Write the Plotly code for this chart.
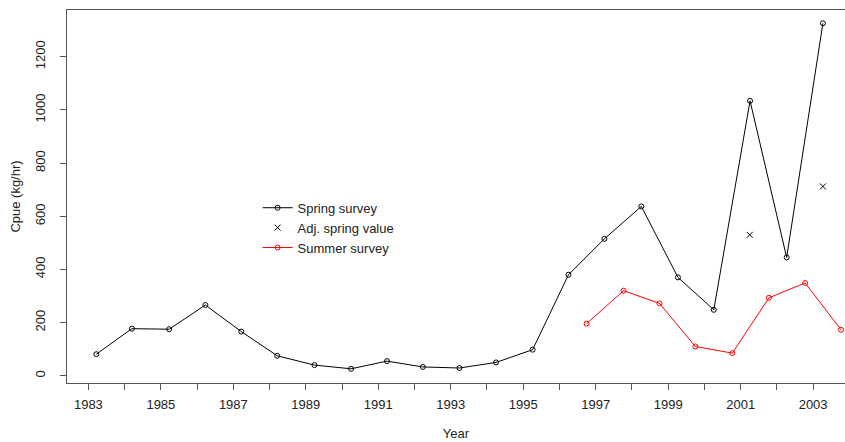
import plotly.graph_objects as go

# Spring survey (timed ~ March of each year)
spring_years = [1983.22, 1984.2, 1985.23, 1986.23, 1987.22, 1988.21, 1989.24, 1990.25,
                1991.24, 1992.23, 1993.24, 1994.25, 1995.26, 1996.25, 1997.24, 1998.26,
                1999.27, 2000.26, 2001.26, 2002.27, 2003.27]
spring_cpue = [81, 177, 175, 266, 166, 75, 40, 26, 55, 33, 29, 50, 98, 380, 515, 637,
               370, 248, 1034, 445, 1326]

# Adjusted spring values
adj_years = [2001.25, 2003.27]
adj_cpue = [530, 712]

# Summer survey
summer_years = [1996.75, 1997.77, 1998.76, 1999.75, 2000.77, 2001.78, 2002.78, 2003.77]
summer_cpue = [196, 320, 272, 110, 85, 293, 349, 173]

# Axis ticks
x_tick_vals = list(range(1983, 2004))
x_tick_text = [str(y) if (y - 1983) % 2 == 0 else "" for y in x_tick_vals]
y_tick_vals = [0, 200, 400, 600, 800, 1000, 1200]

FONT = "Liberation Sans, Arial, sans-serif"
TXT = "#222222"

fig = go.Figure()
fig.add_trace(go.Scatter(
    x=spring_years, y=spring_cpue, mode="lines+markers", name="Spring survey",
    line=dict(color="#000000", width=1),
    marker=dict(symbol="circle-open", size=5, color="#000000", line=dict(width=1)),
    cliponaxis=False))
fig.add_trace(go.Scatter(
    x=adj_years, y=adj_cpue, mode="markers", name="Adj. spring value",
    marker=dict(symbol="x-thin-open", size=6, color="#000000", line=dict(width=1, color="#000000")),
    cliponaxis=False))
fig.add_trace(go.Scatter(
    x=summer_years, y=summer_cpue, mode="lines+markers", name="Summer survey",
    line=dict(color="#ff0000", width=1),
    marker=dict(symbol="circle-open", size=5, color="#ff0000", line=dict(width=1)),
    cliponaxis=False))

fig.update_layout(
    width=845, height=442,
    margin=dict(l=67, r=0, t=10, b=59),
    paper_bgcolor="white", plot_bgcolor="white",
    font=dict(family=FONT, size=13, color=TXT),
    showlegend=True,
    legend=dict(x=0.245, y=0.51, xanchor="left", yanchor="top",
                bgcolor="rgba(0,0,0,0)", font=dict(size=13, color=TXT),
                tracegroupgap=0, itemsizing="trace"),
    xaxis=dict(range=[1982.41, 2003.88], tickmode="array", tickvals=x_tick_vals,
               ticktext=x_tick_text, ticks="outside", ticklen=6, tickcolor="#555555",
               ticklabelstandoff=3,
               showgrid=False, zeroline=False, showline=True, linecolor="#555555",
               linewidth=1, mirror=True,
               title=dict(text="Year", font=dict(size=13, color=TXT), standoff=18)),
    yaxis=dict(range=[-27.4, 1376], tickmode="array", tickvals=y_tick_vals,
               ticks="outside", ticklen=6, tickcolor="#555555", tickangle=-90,
               ticklabelstandoff=10,
               showgrid=False, zeroline=False, showline=True, linecolor="#555555",
               linewidth=1, mirror=True,
               title=dict(text="Cpue (kg/hr)", font=dict(size=13, color=TXT), standoff=9)),
)

fig.write_html("out.html", config={"displayModeBar": False},
               post_script="document.body.style.margin='0';document.body.style.overflow='hidden';")
